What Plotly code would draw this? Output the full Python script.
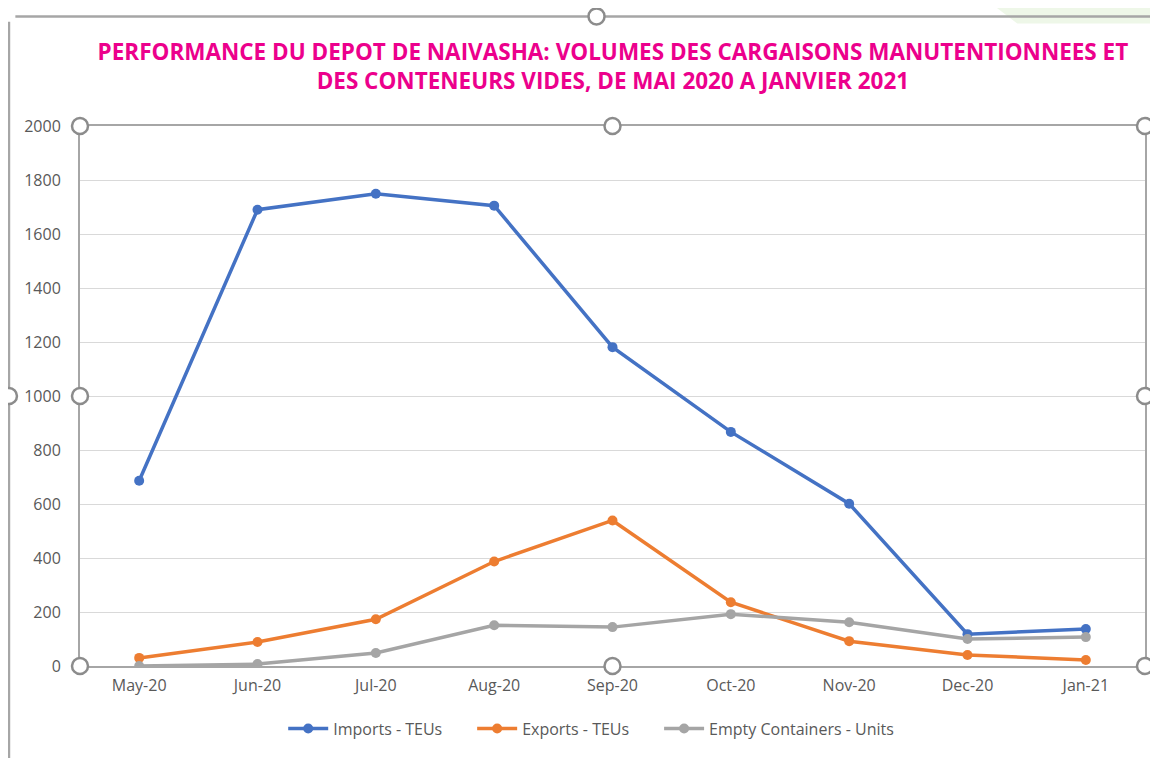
import plotly.graph_objects as go

months = ["May-20", "Jun-20", "Jul-20", "Aug-20", "Sep-20", "Oct-20", "Nov-20", "Dec-20", "Jan-21"]
imports_teu = [686, 1690, 1749, 1705, 1181, 867, 601, 118, 137]
exports_teu = [30, 89, 173, 387, 539, 236, 92, 41, 22]
empty_units = [0, 7, 48, 151, 144, 192, 162, 100, 107]

series_names = ["Imports - TEUs", "Exports - TEUs", "Empty Containers - Units"]
series_values = [imports_teu, exports_teu, empty_units]
series_colors = ["#4472C4", "#ED7D31", "#A5A5A5"]

pad = "\u00a0" * 6  # spacing between legend entries

fig = go.Figure()
for i, (name, vals, col) in enumerate(zip(series_names, series_values, series_colors)):
    label = name + (pad if i < len(series_names) - 1 else "")
    fig.add_trace(go.Scatter(
        x=months, y=vals, name=label, mode="lines+markers",
        line=dict(color=col, width=3.5),
        marker=dict(color=col, size=10),
    ))

title = ("PERFORMANCE DU DEPOT DE NAIVASHA: VOLUMES DES CARGAISONS MANUTENTIONNEES ET<br>"
         "DES CONTENEURS VIDES, DE MAI 2020 A JANVIER 2021")

fig.update_layout(
    width=1150, height=750,
    margin=dict(l=72, r=13, t=118, b=90),
    paper_bgcolor="white", plot_bgcolor="white",
    title=dict(text=title, x=0.526, xanchor="center", y=0.931, yanchor="middle",
               font=dict(family="Open Sans", size=22.5, color="#EC008C", weight="bold")),
    font=dict(family="Open Sans", color="#595959", size=16),
    xaxis=dict(type="category", range=[-0.5, 8.5], showgrid=False,
               showline=True, linecolor="#A6A6A6", linewidth=2, mirror=True,
               ticks="", ticklabelstandoff=4, tickfont=dict(size=16, color="#595959")),
    yaxis=dict(range=[0, 2000], dtick=200, showgrid=True, gridcolor="#D9D9D9", gridwidth=1,
               showline=True, linecolor="#A6A6A6", linewidth=2, mirror=True,
               zeroline=False, ticks="", ticklabelstandoff=14,
               tickfont=dict(size=16, color="#595959")),
    legend=dict(orientation="h", x=0.48, xanchor="center", y=-0.116, yanchor="middle",
                font=dict(size=16, color="#595959"), itemwidth=40),
    showlegend=True,
)

# faint green decoration at top right
fig.add_shape(type="path", xref="paper", yref="paper",
              path="M 0.86 1.22 L 1.02 1.22 L 1.02 1.19 L 0.88 1.19 Z",
              fillcolor="#EEF7E8", line=dict(width=0), layer="below")

# selection handles on the plot area frame
handles = [(0, 0), (0.5, 0), (1, 0), (0, 0.5), (1, 0.5), (0, 1), (0.5, 1), (1, 1)]
for hx, hy in handles:
    fig.add_shape(type="circle", xref="x domain", yref="y domain",
                  xsizemode="pixel", ysizemode="pixel", xanchor=hx, yanchor=hy,
                  x0=-8, x1=8, y0=-8, y1=8,
                  line=dict(color="#8C8C8C", width=2.5), fillcolor="white", layer="above")

# outer chart frame (left and top edges) with handles
fx, fy = -0.0667, 1.203
fig.add_shape(type="line", xref="paper", yref="paper", x0=fx, x1=fx, y0=-0.25, y1=fy - 0.01,
              line=dict(color="#A6A6A6", width=2.5))
fig.add_shape(type="line", xref="paper", yref="paper", x0=fx + 0.006, x1=1.02, y0=fy, y1=fy,
              line=dict(color="#A6A6A6", width=2.5))
for hx, hy in [(fx, 0.5), (0.485, fy)]:
    fig.add_shape(type="circle", xref="paper", yref="paper",
                  xsizemode="pixel", ysizemode="pixel", xanchor=hx, yanchor=hy,
                  x0=-8, x1=8, y0=-8, y1=8,
                  line=dict(color="#8C8C8C", width=2.5), fillcolor="white", layer="above")

fig.write_html("out.html")
